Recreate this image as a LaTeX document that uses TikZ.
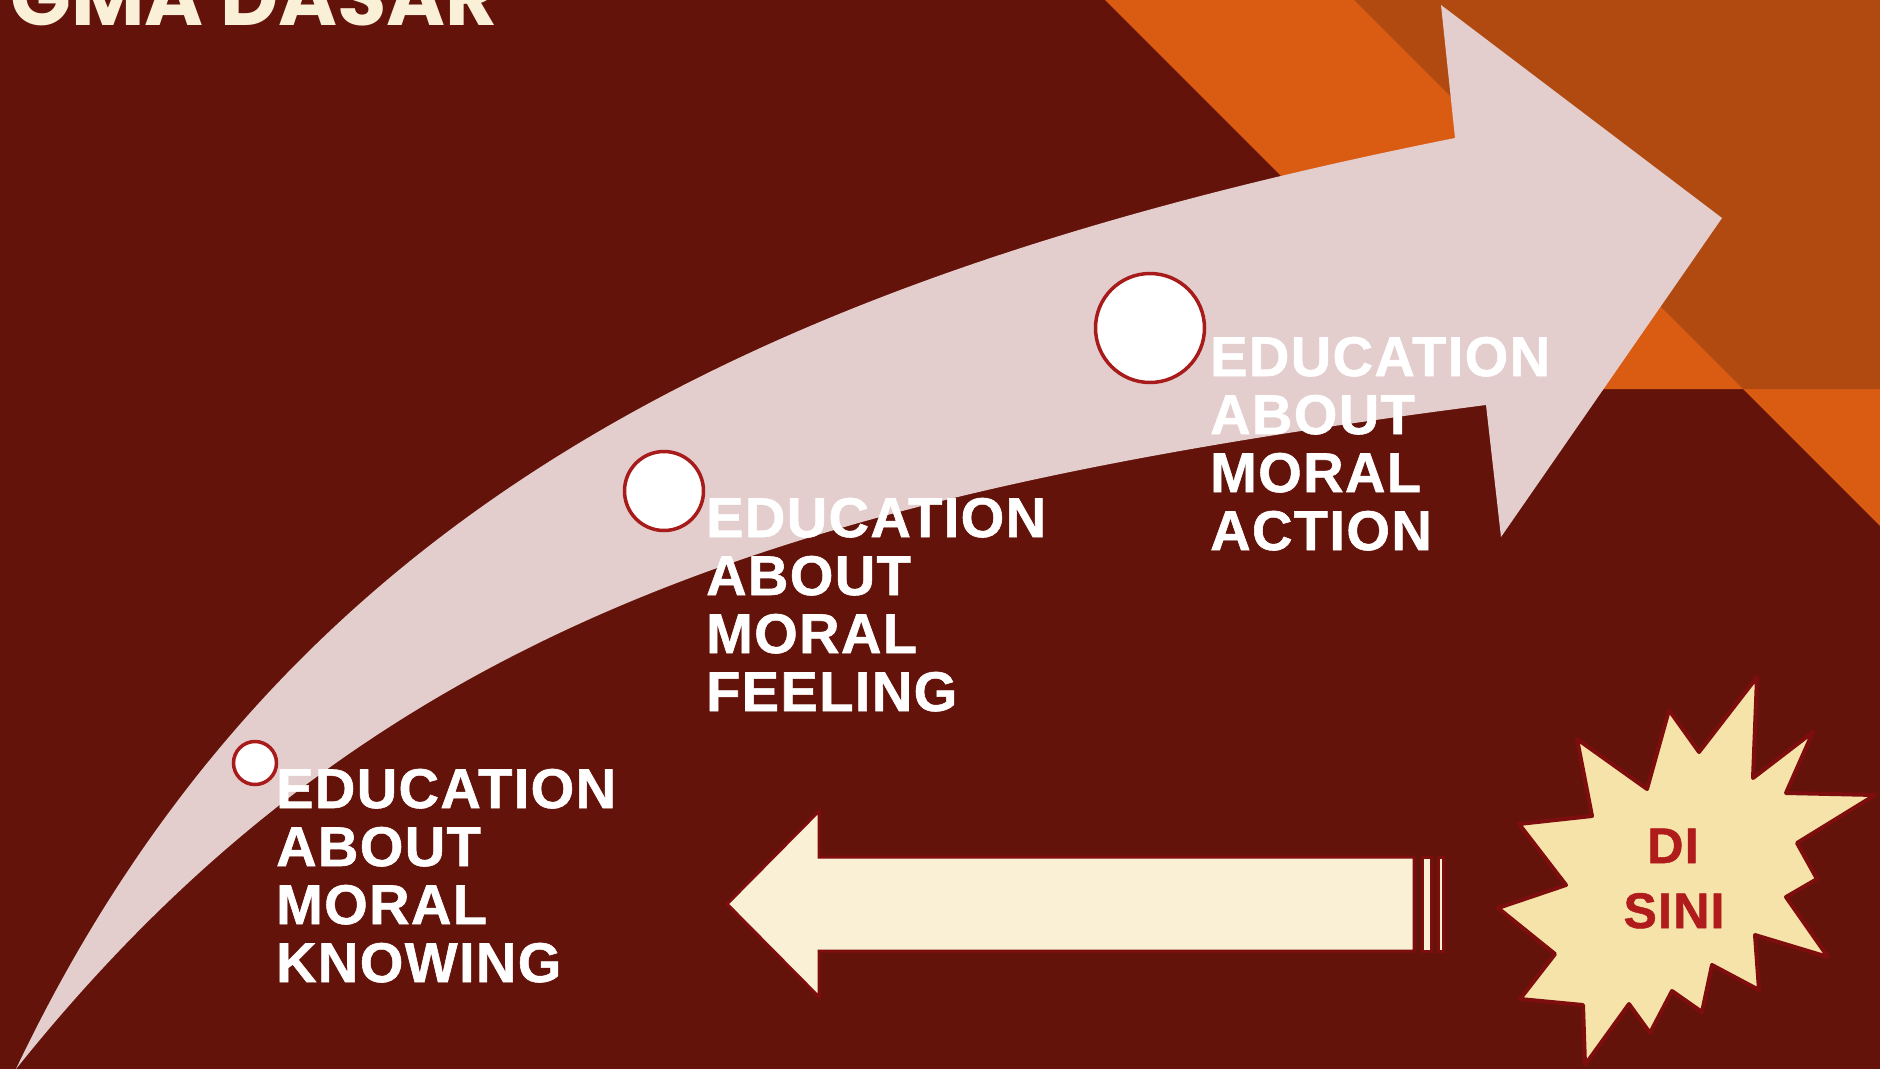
\documentclass[tikz,border=0pt]{standalone}
\usepackage{fontspec}
\setmainfont{Liberation Sans}
\newfontfamily\lblfont[FakeBold=1,LetterSpace=2.5]{Liberation Sans Bold}
\newfontfamily\titlefont{Poppins}
\definecolor{bgmaroon}{HTML}{64130A}
\definecolor{orng}{HTML}{DA5C13}
\definecolor{dorng}{HTML}{B14A10}
\definecolor{pinkarrow}{HTML}{E3CDCD}
\definecolor{ringred}{HTML}{A81B1B}
\definecolor{starfill}{HTML}{F5E3A9}
\definecolor{darkedge}{HTML}{7E0E0E}
\definecolor{creamfill}{HTML}{FAF0D5}
\definecolor{titlecream}{HTML}{FAF0D7}
\definecolor{sinired}{HTML}{B01C1C}
\tikzset{
  lbl/.style={anchor=base west, inner sep=0pt, text=white, font=\lblfont\fontsize{56}{58}\selectfont},
  dotc/.style={circle, fill=white, draw=ringred, line width=3.5pt, inner sep=0pt},
  sini/.style={anchor=base, inner sep=0pt, text=sinired, font=\lblfont\fontsize{50}{65}\selectfont},
}
\begin{document}
\begin{tikzpicture}[x=1pt,y=-1pt]
\useasboundingbox (0,0) rectangle (1880,1069);
\clip (0,0) rectangle (1880,1069);
% background
\fill[bgmaroon] (0,0) rectangle (1880,1069);
\fill[orng] (1105,0) -- (1880,0) -- (1880,526) -- (1743,389) -- (1494,389) -- cycle;
\fill[dorng] (1354,0) -- (1880,0) -- (1880,389) -- (1743,389) -- cycle;
% title (cut at the top, as in the reference)
\node[anchor=base east, inner sep=0pt, text=titlecream, font=\titlefont\bfseries\fontsize{80}{80}\selectfont] (title) at (498,25) {GMA DASAR};
% big curved arrow
\fill[pinkarrow] (16,1069) .. controls (281,512) and (755,278) .. (1455,138)
  -- (1441,5) -- (1722,218) -- (1501,537) -- (1486,405)
  .. controls (806,493) and (376,619) .. (16,1069) -- cycle;
% circles
\node[dotc, minimum size=43pt] (c1) at (255,763) {};
\node[dotc, minimum size=79pt] (c2) at (664,491) {};
\node[dotc, minimum size=109pt] (c3) at (1150,328) {};
% labels
\foreach \t [count=\i] in {EDUCATION,ABOUT,MORAL,KNOWING}
  \node[lbl] (kn\i) at (276,{808+58*(\i-1)}) {\t};
\foreach \t [count=\i] in {EDUCATION,ABOUT,MORAL,FEELING}
  \node[lbl] (fe\i) at (706,{537+58*(\i-1)}) {\t};
\foreach \t [count=\i] in {EDUCATION,ABOUT,MORAL,ACTION}
  \node[lbl] (ac\i) at (1210,{376+58*(\i-1)}) {\t};
% striped left arrow
\begin{scope}[fill=creamfill, draw=darkedge, line width=3pt]
\filldraw (727,904) -- (819,811) -- (819,857) -- (1414,857) -- (1414,951) -- (819,951) -- (819,997) -- cycle;
\filldraw (1422,857) rectangle (1431,951);
\filldraw (1438,857) rectangle (1443,951);
\end{scope}
% explosion star
\filldraw[fill=starfill, draw=darkedge, line width=4pt, line join=round]
 (1757,677) -- (1753,778) -- (1813,732) -- (1786,793) -- (1875,795) -- (1797,843) -- (1817,879) -- (1786,897) -- (1828,957) -- (1755,935) -- (1759,990) -- (1712,965) -- (1702,1012) -- (1672,991) -- (1650,1033) -- (1629,1004) -- (1585,1065) -- (1583,1005) -- (1520,999) -- (1555,954) -- (1498,908) -- (1566,885) -- (1519,824) -- (1592,816) -- (1577,739) -- (1647,789) -- (1669,710) -- (1699,752) -- cycle;
\node[sini] (di) at (1673,863) {DI};
\node[sini] (si) at (1674,928) {SINI};
\end{tikzpicture}
\end{document}
